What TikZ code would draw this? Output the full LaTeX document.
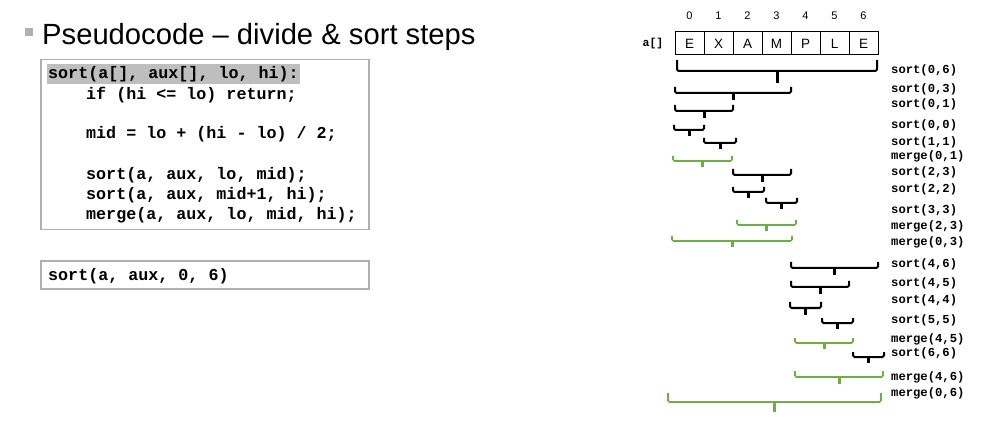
\documentclass[tikz,border=0pt]{standalone}
\usepackage{fontspec}
\setmainfont{Liberation Sans}
\setmonofont{Liberation Mono}
\usetikzlibrary{positioning}
\definecolor{mergegreen}{RGB}{112,173,71}
\definecolor{boxgray}{RGB}{175,175,175}
\definecolor{hlgray}{RGB}{190,190,190}
\tikzset{
    cell/.style = {
        draw,
        shape=rectangle,
        minimum width=29pt,
        minimum height=23pt,
        inner sep=0pt,
        line width=1pt,
        font=\fontsize{13.5}{13.5}\selectfont
    },
    idx/.style = {
        inner sep=0pt,
        font=\fontsize{11}{11}\selectfont
    },
    callname/.style = {
        anchor=west,
        inner sep=0pt,
        font=\fontsize{12.2}{12}\selectfont\ttfamily\bfseries
    },
    codebox/.style = {
        draw=boxgray,
        shape=rectangle,
        line width=1.8pt,
        inner sep=0pt
    },
    codeline/.style = {
        anchor=west,
        inner sep=0pt,
        font=\fontsize{16.7}{20}\selectfont\ttfamily\bfseries
    },
    sortbr/.style = {
        draw=black,
        line width=2pt
    },
    mergebr/.style = {
        draw=mergegreen,
        line width=1.6pt
    },
    tick/.style = {
        line width=3pt
    },
}

\begin{document}
\begin{tikzpicture}[x=1pt,y=-1pt]
        \useasboundingbox (0,0) rectangle (993,430);

        % title
        \node[fill=boxgray, minimum size=8pt, inner sep=0pt] (bullet) at (29,32.5) {};
        \node[anchor=base west, inner sep=0pt, font=\fontsize{29.2}{29}\selectfont] (title) at (42,45) {Pseudocode -- divide \& sort steps};

        % code
        \node[codebox, minimum width=328pt, minimum height=170pt] (code) at (205,144.5) {};
        \node[codeline, fill=hlgray, inner xsep=1pt, inner ysep=2pt] (head) at (47,74) {sort(a[], aux[], lo, hi):};
        \node[codeline] (ret) at (86,95) {if (hi <= lo) return;};
        \node[codeline] (mid) at (86,134) {mid = lo + (hi - lo) / 2;};
        \node[codeline] (left) at (86,175) {sort(a, aux, lo, mid);};
        \node[codeline] (right) at (86,195) {sort(a, aux, mid+1, hi);};
        \node[codeline] (merge) at (86,215) {merge(a, aux, lo, mid, hi);};

        \node[codebox, minimum width=328pt, minimum height=28pt] (callbox) at (205,275) {};
        \node[codeline] (call) at (48,276) {sort(a, aux, 0, 6)};

        % array
        \foreach \ch [count=\i from 0] in {E,X,A,M,P,L,E} {
            \node[cell] (c\i) at ({689.5+29*\i},43.5) {\ch};
            \node[idx, above=12pt of c\i] (n\i) {\i};
        }
        \node[callname, font=\fontsize{11.5}{11}\selectfont\ttfamily\bfseries, anchor=east, left=11pt of c0] (arr) {a[]};

        % calls
        \foreach \xl/\xr/\yy/\hh/\st/\lab/\ly [count=\k] in {
            677/877/71/11/sortbr/{sort(0,6)}/70,
            675/791/93/6/sortbr/{sort(0,3)}/89,
            675/733/111/6/sortbr/{sort(0,1)}/104,
            674/704/130/5/sortbr/{sort(0,0)}/125,
            704/736/143/5/sortbr/{sort(1,1)}/142,
            673/732/161/5/mergebr/{merge(0,1)}/156,
            733/791/175/6/sortbr/{sort(2,3)}/172,
            733/764/192/5/sortbr/{sort(2,2)}/189,
            766/797/203/5/sortbr/{sort(3,3)}/210,
            737/796/225/5/mergebr/{merge(2,3)}/226,
            672/792/241/5/mergebr/{merge(0,3)}/242,
            791/878/268/6/sortbr/{sort(4,6)}/264,
            791/849/287/6/sortbr/{sort(4,5)}/283,
            790/821/308/6/sortbr/{sort(4,4)}/300,
            822/853/323/5/sortbr/{sort(5,5)}/320,
            795/853/343/5/mergebr/{merge(4,5)}/339,
            853/884/357/5/sortbr/{sort(6,6)}/353,
            795/883/377/6/mergebr/{merge(4,6)}/377,
            668/881/402/9/mergebr/{merge(0,6)}/393} {
            \path[\st, rounded corners=1.5pt] (\xl,\yy-\hh) -- (\xl,\yy) -- (\xr,\yy) -- (\xr,\yy-\hh);
            \path[\st, tick] ({(\xl+\xr)/2},\yy) -- ++(0,\hh+1);
            \node[callname] (lab\k) at (891,\ly) {\lab};
        }
\end{tikzpicture}
\end{document}
